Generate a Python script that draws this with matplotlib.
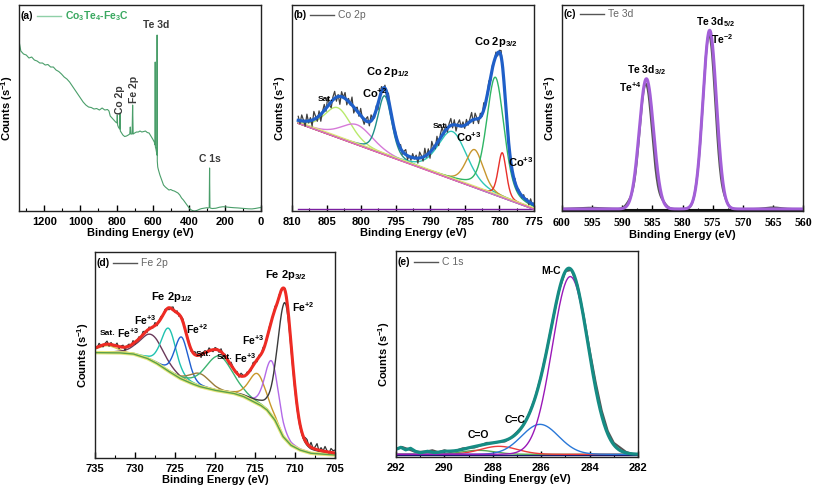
import numpy as np
import matplotlib.pyplot as plt

plt.rcParams['font.family'] = ['Liberation Sans', 'DejaVu Sans']
plt.rcParams['mathtext.fontset'] = 'custom'
plt.rcParams['mathtext.rm'] = 'Liberation Sans'
plt.rcParams['mathtext.bf'] = 'Liberation Sans:bold'
plt.rcParams['mathtext.it'] = 'Liberation Sans:italic'

# ---------------- (a) survey ----------------
survey_be = [1340, 1330, 1315, 1300, 1285, 1270, 1255, 1240, 1225, 1210, 1195, 1180, 1165, 1150,
             1135, 1120, 1105, 1090, 1075, 1060, 1045, 1030, 1015, 1000, 985, 970, 955, 940, 925,
             910, 895, 880, 865, 850, 842, 835, 825, 815, 805, 798, 796, 794, 790, 783, 781, 779,
             772, 765, 755, 745, 735, 727, 724, 721, 714, 711, 708, 700, 690, 680, 670, 660, 650,
             640, 630, 620, 610, 600, 594, 589, 587, 586, 585, 582, 578, 576.5, 575.5, 574.5, 572,
             568, 560, 550, 540, 530, 520, 510, 500, 490, 480, 470, 460, 450, 440, 430, 420, 410,
             400, 390, 380, 370, 360, 350, 340, 330, 320, 310, 300, 292, 287, 285, 283, 278, 270,
             250, 230, 210, 190, 170, 150, 130, 110, 90, 70, 50, 30, 10, 0]
survey_counts = [170, 160, 157, 156, 153, 154, 151, 150, 148, 148, 146, 146.5, 144, 144,
                 141, 139.5, 137, 134, 132, 129, 125, 121, 117, 113, 109, 106, 104, 103.5, 102,
                 102.5, 101, 103, 101, 101.5, 100, 95, 93, 91, 89, 88, 96, 86, 84, 82, 98, 80,
                 78, 76, 74.5, 75, 76, 77, 84, 77, 77, 106, 77, 78, 79, 79, 80, 79, 79.5,
                 80, 78.5, 78, 75, 72, 70, 68, 66, 149, 64, 62, 58, 56, 176, 50, 44,
                 41, 36, 31, 26, 24, 22.5, 21, 21.5, 20.5, 20, 19, 18, 16, 13, 11, 8.5, 6,
                 3.5, 1.5, 0.5, 0, 0.3, 1, 1.8, 2.4, 2.7, 3, 3.3, 3, 3.5, 43, 3.2, 2.8, 2.5,
                 2.8, 3.8, 4.3, 4, 3.6, 3.3, 3.1, 2.8, 2.5, 2.2, 2.1, 2.6, 3.3, 3.5]
survey_labels = ['Co 2p', 'Fe 2p', 'Te 3d', 'C 1s']
survey_label_pos = [(783, 111), (701, 122), (579, 186), (285, 52)]

# ---------------- (b) Co 2p ----------------
co_bg_be = [775.0, 809.1]
co_bg = [1.7, 87.7]
co_center = [803.4, 800.6, 796.6, 786.8, 783.6, 780.6, 779.6]
co_height = [30, 20, 59, 48, 38, 118, 45]
co_fwhm = [4.6, 5.5, 2.4, 5.0, 3.0, 3.0, 1.4]
co_colors = ['#b9ea6c', '#d67ad8', '#1f8f88', '#2ec6b6', '#c8962e', '#2fb565', '#e8302a']
co_noise = [4, -3, 6, 1, -5, 7, -2, 3, -6, 8, 2, -4, 5, -7, 1, 6, -3, 9, -1, -6,
            3, 7, -4, 2, -8, 5, 0, 6, -5, 3, -2, 8, -6, 1, 4, -3, 7, -1, -5, 2,
            5, -4, 6, 0, -3, 4, -6, 2, 5, -2, 3, -5, 6, -1, 2, -4, 3, 1, -2, 4,
            -3, 2, 5, -4, 1, -3, 4, -1, 3, -5, 6, 2, -4, 8, -2, 5, -6, 9, 1, -3,
            7, -5, 4, 8, -2, 6, -4, 3, 7, -3, 5, -6, 2, 6, -1, 4, -3, 5, -2, 3,
            8, -4, 6, 1, -5, 4, -2, 7, -3, 2, 5, -4, 3, -1, 4, -3, 2, 6, -2, 3,
            -4, 5, -1, 3, -2, 4, -3, 2, 1, -2, 3, -1, 2, -3, 4, -1, 2]
co_labels = ['Sat.', 'Co$^{\\mathbf{+2}}$', 'Co 2p$_{\\mathbf{1/2}}$', 'Sat.',
             'Co$^{\\mathbf{+3}}$', 'Co 2p$_{\\mathbf{3/2}}$', 'Co$^{\\mathbf{+3}}$']
co_label_pos = [(805.2, 112), (798.0, 118), (796.2, 139), (788.5, 85),
                (784.4, 74), (780.5, 169), (776.9, 49)]
co_label_size = [6, 8, 8, 6, 8, 8, 8]

# ---------------- (c) Te 3d ----------------
te_center = [586.0, 575.5]
te_height = [129, 177]
te_fwhm = [2.8, 2.65]
te_raw_center = [588.8, 586.1, 583.3, 577.6, 575.6, 573.0, 595.5, 565.0]
te_raw_height = [5, 124, 5, 4, 172, 5, 1.2, 1.5]
te_raw_fwhm = [1.5, 2.5, 1.5, 1.3, 2.45, 1.3, 5, 3]
te_labels = ['Te 3d$_{\\mathbf{5/2}}$', 'Te$^{\\mathbf{-2}}$', 'Te 3d$_{\\mathbf{3/2}}$', 'Te$^{\\mathbf{+4}}$']
te_label_pos = [(574.5, 187), (573.4, 170), (586.0, 140), (588.6, 123)]

# ---------------- (d) Fe 2p ----------------
fe_bg_be = [705.0, 708.0, 709.4, 710.5, 711.5, 712.5, 713.5, 714.3, 715.2, 716.5, 717.7,
            720.0, 721.9, 723.0, 724.4, 726.0, 727.3, 728.5, 730.2, 732.0, 735.0]
fe_bg = [3.3, 5, 8.3, 13, 21.7, 38, 48.3, 53, 56.7, 62, 65,
         68, 71.7, 75, 80, 88, 95, 100, 104.3, 105.5, 105.7]
fe_center = [733.5, 727.9, 725.8, 724.2, 721.9, 719.5, 714.7, 712.9, 711.25]
fe_height = [7, 26, 43, 42, 13, 35, 30, 55, 136]
fe_fwhm = [3.0, 3.5, 2.2, 2.0, 3.0, 4.0, 2.5, 2.0, 2.2]
fe_colors = ['#d8c050', '#6b3a5a', '#1fc2b0', '#1f5fd0', '#9a7b3a', '#3cb371', '#c9982a',
             '#b36ae8', '#3a3a3a']
fe_noise = [2, -1, 3, 0, -2, 1, 3, -2, 2, -1, 0, 3, -2, 1, 2, -3, 1, 2, -1, 3,
            -2, 0, 2, -1, 3, 1, -2, 2, 0, -1, 3, -2, 1, 2, -1, 2, 0, -2, 1, 3,
            -1, 2, -2, 1, 3, -1, 0, 2, -2, 1, 3, -1, 2, -3, 1, 2, -1, 3, 0, -2,
            2, 1, -2, 3, -1, 2, 0, -2, 3, 1, -1, 2, -2, 3, 1, -1, 2, 0, -2, 3,
            1, -2, 2, -1, 3, 0, -2, 2, 1, -1, 3, -2, 2, 0, -1, 2, 1, -2, 3, -1,
            2, 0, -1, 2, -2, 3, 4, -1, 5, 0, 2, 6, -1, 3, 0, 5, 1, -1, 4, 2, 3]
fe_labels = ['Sat.', 'Fe$^{\\mathbf{+3}}$', 'Fe$^{\\mathbf{+3}}$', 'Fe 2p$_{\\mathbf{1/2}}$',
             'Fe$^{\\mathbf{+2}}$', 'Sat.', 'Sat.', 'Fe$^{\\mathbf{+3}}$', 'Fe$^{\\mathbf{+3}}$',
             'Fe 2p$_{\\mathbf{3/2}}$', 'Fe$^{\\mathbf{+2}}$']
fe_label_pos = [(733.5, 125), (730.9, 125), (728.8, 138), (725.4, 161), (722.3, 129),
                (721.5, 104), (718.8, 101), (716.3, 100), (715.3, 118), (711.1, 183), (709.0, 151)]
fe_label_size = [6, 7.5, 7.5, 8, 7.5, 6, 6, 7.5, 7.5, 8, 7.5]

# ---------------- (e) C 1s ----------------
c_base = 3.0
c_center = [288.6, 287.75, 286.05, 284.8]
c_height = [4, 8, 30, 178]
c_fwhm = [1.6, 1.8, 1.8, 1.75]
c_colors = ['#55a855', '#ec3b3b', '#2a78d8', '#9a18b8']
c_wiggle_be = [282.0, 288.5, 289.0, 289.5, 290.0, 290.4, 290.7, 291.0, 291.2, 291.4, 291.6, 291.8, 292.0]
c_wiggle = [0, 0, 1, 1.5, 2.5, 1.5, 3, 1.5, 3, 6, 4.5, 7, 5]
c_raw_dev = [0, 1, 0, -1, 1, 0, 2, 0, 1, -1, 0, 1, 0, -1, 0, 1, 0, 0, -1, 0, 1,
             0, 0, 0, 0, 0, 0, 0, 0, 0, 1, 2, 4, 6, 5, 3, 2, 3, 1, 0, 0]
c_labels = ['M-C', 'C=C', 'C=O']
c_label_pos = [(285.6, 187), (287.1, 37), (288.6, 22)]


def pv(x, c, a, w, eta=0.35):
    u = ((x - c) / w) ** 2
    return a * (eta / (1 + 4 * u) + (1 - eta) * np.exp(-4 * np.log(2) * u))


def style(ax, xlim, ylim, ticks, minor, serif=False):
    ax.set_xlim(*xlim)
    ax.set_ylim(*ylim)
    ax.set_xticks(ticks)
    ax.set_xticks(minor, minor=True)
    if serif:
        ax.set_xticklabels([str(t) for t in ticks], fontweight='bold', fontsize=8.5,
                           family='Liberation Serif')
    else:
        ax.set_xticklabels([str(t) for t in ticks], fontweight='bold', fontsize=8)
    ax.set_yticks([])
    ax.tick_params(axis='x', which='major', direction='in', length=4, width=1, pad=4)
    ax.tick_params(axis='x', which='minor', direction='in', length=2.5, width=0.8)
    for s in ax.spines.values():
        s.set_linewidth(1.0)
        s.set_color('#222222')
    ax.set_xlabel('Binding Energy (eV)', fontsize=8, fontweight='bold', labelpad=1)
    ax.set_ylabel('Counts (s$^{\\mathbf{-1}}$)', fontsize=8, fontweight='bold', labelpad=3)


def legend(ax, tag, name, color, tcolor, y):
    ax.text(0.008, y, tag, transform=ax.transAxes, fontsize=7.5, fontweight='bold',
            va='center', ha='left')
    ax.plot([0.075, 0.175], [y, y], transform=ax.transAxes, color=color, lw=1)
    ax.text(0.19, y, name, transform=ax.transAxes, fontsize=7.5, color=tcolor,
            va='center', ha='left')


fig = plt.figure(figsize=(8.13, 4.92), dpi=100)

# (a)
ax = fig.add_axes([0.0234, 0.5711, 0.2977, 0.4187])
ax.plot(survey_be, survey_counts, color='#4a9e6a', lw=0.8)
style(ax, (1340, 0), (0, 206), list(range(1200, -1, -200)), list(range(1300, 0, -200)))
legend(ax, '(a)', 'Co$_\\mathbf{3}$Te$_\\mathbf{4}$-Fe$_\\mathbf{3}$C', '#8fd0a8', '#3aa860', 0.945)
ax.texts[-1].set_fontweight('bold')
for lab, (x, y) in zip(survey_labels, survey_label_pos):
    rot = 90 if lab in ('Co 2p', 'Fe 2p') else 0
    ax.text(x, y, lab, fontsize=7.5, fontweight='bold', color='#3a3a3a', rotation=rot,
            ha='center', va='center')

# (b)
ax = fig.add_axes([0.3592, 0.5711, 0.2977, 0.4187])
eb = np.linspace(809.1, 775.0, 400)
bg = np.interp(eb, co_bg_be, co_bg)
env = bg.copy()
for c, a, w in zip(co_center, co_height, co_fwhm):
    env += pv(eb, c, a, w)
er = np.linspace(809.1, 775.0, len(co_noise))
raw = np.interp(er, eb[::-1], env[::-1]) + np.array(co_noise)
for c, a, w, col in zip(co_center, co_height, co_fwhm, co_colors):
    ax.plot(eb, bg + pv(eb, c, a, w), color=col, lw=1)
ax.plot(eb, np.full_like(eb, 1.7), color='#7b1fa2', lw=1)
ax.plot(eb, bg + 1.5, color='#dfe27a', lw=1)
ax.plot(eb, bg, color='#d870c8', lw=1)
ax.plot(er, raw, color='#404040', lw=0.9)
ax.plot(eb, env, color='#1f5fc8', lw=2.3)
style(ax, (810, 775), (0, 206), list(range(810, 774, -5)), list(np.arange(807.5, 775, -5)))
legend(ax, '(b)', 'Co 2p', '#555555', '#666666', 0.95)
for lab, (x, y), fs in zip(co_labels, co_label_pos, co_label_size):
    ax.text(x, y, lab, fontsize=fs, fontweight='bold', ha='center', va='center')

# (c)
ax = fig.add_axes([0.6913, 0.5711, 0.2965, 0.4187])
ec = np.linspace(600, 560, 600)
fit = np.full_like(ec, 2.0)
for c, a, w in zip(te_center, te_height, te_fwhm):
    fit += pv(ec, c, a, w, 0.0)
rawc = np.full_like(ec, 2.0)
for c, a, w in zip(te_raw_center, te_raw_height, te_raw_fwhm):
    rawc += pv(ec, c, a, w, 0.0)
ax.plot(ec, np.full_like(ec, 1.0), color='#111111', lw=1.5)
ax.plot(ec, rawc, color='#555555', lw=1.5)
ax.plot(ec, fit, color='#a35fd8', lw=2.2)
style(ax, (600, 560), (0, 204), list(range(600, 559, -5)), list(np.arange(597.5, 560, -5)),
      serif=True)
legend(ax, '(c)', 'Te 3d', '#555555', '#666666', 0.955)
for lab, (x, y) in zip(te_labels, te_label_pos):
    ax.text(x, y, lab, fontsize=7.5, fontweight='bold', ha='center', va='center')

# (d)
ax = fig.add_axes([0.1169, 0.0685, 0.2952, 0.4199])
ed = np.linspace(735, 705, 400)
bgd = np.interp(ed, fe_bg_be, fe_bg)
envd = bgd.copy()
for c, a, w in zip(fe_center, fe_height, fe_fwhm):
    envd += pv(ed, c, a, w, 0.3)
erd = np.linspace(735, 705, len(fe_noise))
rawd = np.interp(erd, ed[::-1], envd[::-1]) + np.array(fe_noise)
for c, a, w, col in zip(fe_center, fe_height, fe_fwhm, fe_colors):
    ax.plot(ed, bgd + pv(ed, c, a, w, 0.3), color=col, lw=1)
ax.plot(ed, bgd, color='#e6e67a', lw=2.5)
ax.plot(ed, bgd, color='#5aa04a', lw=1)
ax.plot(erd, rawd, color='#333333', lw=0.9)
ax.plot(ed, envd, color='#ee2b24', lw=2.2)
style(ax, (735, 705), (0, 206.6), list(range(735, 704, -5)), list(np.arange(732.5, 705, -5)))
legend(ax, '(d)', 'Fe 2p', '#555555', '#666666', 0.947)
for lab, (x, y), fs in zip(fe_labels, fe_label_pos, fe_label_size):
    ax.text(x, y, lab, fontsize=fs, fontweight='bold', ha='center', va='center')

# (e)
ax = fig.add_axes([0.4871, 0.0705, 0.2977, 0.4187])
ee = np.linspace(292, 282, 500)
enve = np.full_like(ee, c_base) + np.interp(ee, c_wiggle_be, c_wiggle)
for c, a, w in zip(c_center, c_height, c_fwhm):
    enve += pv(ee, c, a, w, 0.0)
ere = np.linspace(292, 282, len(c_raw_dev))
rawe = np.interp(ere, ee[::-1], enve[::-1]) + np.array(c_raw_dev)
ax.plot(ee, np.full_like(ee, 2.0), color='#1a1a6e', lw=1)
ax.plot(ere, rawe, color='#555555', lw=1.5)
for c, a, w, col in zip(c_center, c_height, c_fwhm, c_colors):
    ax.plot(ee, c_base + pv(ee, c, a, w, 0.0), color=col, lw=1)
ax.plot(ee, enve, color='#168c84', lw=2.3)
style(ax, (292, 282), (0, 206.3), list(range(292, 281, -2)), list(range(291, 282, -2)))
legend(ax, '(e)', 'C 1s', '#555555', '#666666', 0.95)
for lab, (x, y) in zip(c_labels, c_label_pos):
    ax.text(x, y, lab, fontsize=7.5, fontweight='bold', ha='center', va='center')

fig.savefig('out.png', dpi=100, facecolor='white')
